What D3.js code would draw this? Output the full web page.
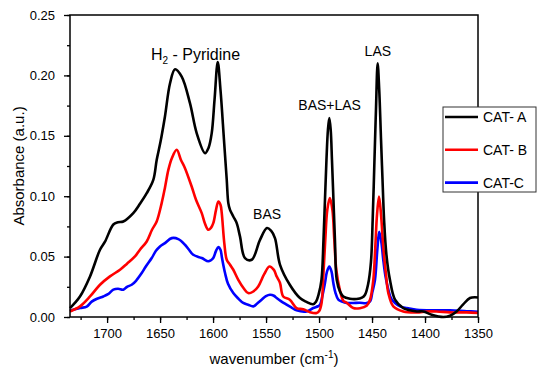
<!DOCTYPE html>
<html lang="en">
<head>
<meta charset="UTF-8">
<title>Pyridine IR spectra</title>
<script src="https://d3js.org/d3.v7.min.js"></script>
<style>
  body { margin: 0; background: #fff; }
  svg { font-family: "Liberation Sans", Arial, sans-serif; }
</style>
</head>
<body>
<svg id="chart" width="550" height="378"></svg>
<script>
// [wavenumber, absorbance]
const catA = [[1735,0.0074],[1725.6,0.017],[1716.1,0.0336],[1706.7,0.0557],[1702,0.0623],[1694.1,0.0766],
  [1689.7,0.0784],[1684.7,0.0791],[1675.3,0.086],[1669,0.0937],[1662.6,0.1025],[1656.4,0.1135],[1653.2,0.13],
  [1649.6,0.145],[1645.4,0.166],[1640.6,0.1935],[1635.9,0.2051],[1629.6,0.199],[1621.8,0.177],[1615.4,0.152],
  [1607.6,0.1356],[1604.3,0.14],[1601.3,0.152],[1598.6,0.18],[1595.6,0.211],[1593,0.188],[1589.7,0.1466],
  [1587.1,0.1136],[1585.6,0.0943],[1584,0.0887],[1580.9,0.0832],[1577.7,0.0777],[1574.6,0.0667],[1569.9,0.0488],
  [1563.5,0.0474],[1555.7,0.0639],[1549.1,0.0736],[1545.3,0.0714],[1541.6,0.0653],[1536.8,0.0432],[1527.6,0.0267],
  [1518,0.0157],[1512.3,0.0127],[1505.7,0.0106],[1502.9,0.0127],[1500.5,0.0184],[1497.7,0.0308],[1495.8,0.064],
  [1494.4,0.097],[1493,0.13],[1491.6,0.155],[1490.3,0.1646],[1489,0.155],[1487.8,0.13],[1486.4,0.097],
  [1485,0.064],[1483.3,0.0308],[1480.2,0.021],[1477.1,0.017],[1470.8,0.0151],[1464.5,0.0149],[1459.5,0.016],
  [1456.6,0.0184],[1453.8,0.0267],[1451,0.0457],[1449.4,0.08],[1447.7,0.13],[1446.3,0.171],[1444.7,0.21],
  [1443.2,0.188],[1441.5,0.1466],[1440.1,0.1136],[1438.6,0.08],[1436.4,0.0515],[1433.1,0.0308],[1428.3,0.0143],
  [1420.5,0.0074],[1407.8,0.0046],[1401.6,0.0046],[1393.7,0.0019],[1382.8,0],[1376.4,0.0011],[1370.2,0.0046],
  [1364.2,0.0102],[1357.6,0.0157],[1350,0.0162]];

const catB = [[1735,0.0046],[1725.6,0.0088],[1716.1,0.017],[1706.7,0.0267],[1697.3,0.0336],[1687.8,0.0391],
  [1681.2,0.0441],[1673.7,0.0501],[1669,0.0557],[1662.6,0.0625],[1657.6,0.0722],[1653.2,0.0791],[1648.5,0.0943],
  [1645.4,0.107],[1642.2,0.1218],[1638.8,0.1317],[1634.3,0.1384],[1630.3,0.13],[1626.5,0.1232],[1620.2,0.108],
  [1616.1,0.097],[1610.7,0.086],[1607.6,0.0772],[1604.5,0.0722],[1602,0.0738],[1599.8,0.0777],[1597.2,0.0887],
  [1595,0.0956],[1593,0.093],[1591.8,0.086],[1589.4,0.0612],[1587.1,0.0474],[1584,0.0433],[1580.9,0.0391],
  [1576.2,0.0308],[1570.8,0.0234],[1566.8,0.0198],[1562.4,0.0209],[1557.4,0.0253],[1552,0.035],[1546.8,0.0418],
  [1542.6,0.039],[1540,0.0336],[1536.9,0.0284],[1533.8,0.017],[1527.6,0.0143],[1521.2,0.0074],[1515,0.0064],
  [1508.5,0.004],[1502.3,0.0033],[1499.7,0.0052],[1497.6,0.0116],[1495.9,0.035],[1494.1,0.064],[1492.2,0.0888],
  [1489.8,0.0984],[1487.4,0.0888],[1485.6,0.064],[1483.7,0.039],[1480.4,0.0226],[1477.1,0.0135],[1473.9,0.0118],
  [1467.7,0.0074],[1461.4,0.0073],[1455.1,0.0093],[1451.9,0.0143],[1448.8,0.0308],[1446.8,0.06],[1445.3,0.0846],
  [1443.4,0.0997],[1441.5,0.0846],[1439.4,0.0584],[1436.8,0.035],[1434.6,0.0198],[1429.9,0.0088],[1420.5,0.0046],
  [1407.8,0.0038],[1398.4,0.0046],[1389,0.0046],[1376.4,0.0038],[1360.7,0.0038],[1350,0.0033]];

const catC = [[1735,0.0052],[1725.6,0.0074],[1719.2,0.0086],[1714.5,0.0127],[1709.5,0.0151],[1703.6,0.017],
  [1699.1,0.0189],[1694.1,0.0226],[1689.7,0.0234],[1684.7,0.0226],[1681.2,0.025],[1676.8,0.0267],[1672.7,0.03],
  [1667.3,0.0364],[1663.3,0.042],[1657.9,0.0488],[1653.9,0.0548],[1650.1,0.0584],[1645.4,0.0612],[1639,0.0653],
  [1632.8,0.0645],[1626.5,0.0598],[1622.7,0.0557],[1618.7,0.0515],[1610.7,0.0488],[1604.5,0.0461],[1602,0.047],
  [1599.8,0.0488],[1597.2,0.0548],[1595,0.0579],[1593,0.0557],[1591.6,0.049],[1588.7,0.0364],[1585.9,0.0275],
  [1580.9,0.0198],[1576.5,0.0155],[1571.5,0.0116],[1567,0.0102],[1562,0.0088],[1558.6,0.011],[1554.2,0.0143],
  [1550.1,0.0172],[1546.3,0.0184],[1542.6,0.0176],[1540,0.0157],[1536,0.0131],[1530.6,0.0102],[1526.5,0.0081],
  [1521.2,0.0055],[1511.7,0.0046],[1505.4,0.0074],[1501,0.0089],[1499.1,0.0102],[1496.8,0.0176],[1494.4,0.0281],
  [1492.5,0.0375],[1490.3,0.0418],[1488.2,0.0375],[1486.5,0.0281],[1484.5,0.02],[1481.8,0.0143],[1478.3,0.0127],
  [1473.9,0.0116],[1467.7,0.0116],[1461.4,0.0118],[1455.7,0.0114],[1451.9,0.0129],[1449.6,0.0209],[1447.2,0.0308],
  [1445,0.0557],[1443.2,0.0705],[1441.1,0.0614],[1439.4,0.0474],[1437.4,0.0342],[1434.6,0.0226],[1432.1,0.0155],
  [1428.3,0.0116],[1423.6,0.0088],[1417.3,0.0074],[1407.8,0.006],[1392.2,0.0055],[1376.4,0.0056],[1360.7,0.0048],
  [1350,0.0044]];

const seriesNames = ["CAT- A", "CAT- B", "CAT-C"];
const seriesColors = ["#000000", "#ff0000", "#0000ff"];
const xTicks = [1700, 1650, 1600, 1550, 1500, 1450, 1400, 1350];
const yTicks = [0.00, 0.05, 0.10, 0.15, 0.20, 0.25];
const peakLabels = [
  { text: "BAS+LAS", w: 1490, v: 0.168 },
  { text: "LAS", w: 1444.5, v: 0.213 },
  { text: "BAS", w: 1549, v: 0.078 }
];

const svg = d3.select("#chart");
const margin = { top: 15, right: 72, bottom: 61, left: 70 };
const width = 550 - margin.left - margin.right;
const height = 378 - margin.top - margin.bottom;

const g = svg.append("g").attr("transform", `translate(${margin.left},${margin.top})`);

const x = d3.scaleLinear().domain([1735, 1350]).range([0, width]);
const y = d3.scaleLinear().domain([0, 0.25]).range([height, 0]);

// minor ticks
g.append("g")
  .attr("transform", `translate(0,${height})`)
  .call(d3.axisBottom(x).tickValues(d3.range(1725, 1349, -25)).tickSize(3).tickFormat(""))
  .call(a => a.select(".domain").remove());
g.append("g")
  .call(d3.axisLeft(y).tickValues(d3.range(0, 0.251, 0.025)).tickSize(3).tickFormat(""))
  .call(a => a.select(".domain").remove());

const xAxis = g.append("g")
  .attr("transform", `translate(0,${height})`)
  .call(d3.axisBottom(x).tickValues(xTicks).tickSize(6).tickPadding(6).tickFormat(d3.format("d")));
const yAxis = g.append("g")
  .call(d3.axisLeft(y).tickValues(yTicks).tickSize(6).tickPadding(9).tickFormat(d3.format(".2f")));

[xAxis, yAxis].forEach(a => {
  a.selectAll("text").attr("font-size", 13).attr("fill", "#000").attr("font-family", "Liberation Sans, Arial, sans-serif");
  a.selectAll("line").attr("stroke", "#000").attr("stroke-width", 1.3);
  a.select(".domain").remove();
});
g.selectAll(".tick line").attr("stroke", "#000").attr("stroke-width", 1.3);

const line = d3.line()
  .x(d => x(d[0]))
  .y(d => y(d[1]))
  .curve(d3.curveCatmullRom.alpha(0.5));

[catC, catB, catA].forEach((data, i) => {
  const idx = 2 - i;
  g.append("path")
    .datum(data)
    .attr("fill", "none")
    .attr("stroke", seriesColors[idx])
    .attr("stroke-width", 2.6)
    .attr("stroke-linejoin", "round")
    .attr("d", line);
});

// frame
g.append("rect")
  .attr("width", width).attr("height", height)
  .attr("fill", "none").attr("stroke", "#000").attr("stroke-width", 1.5);

// peak annotations
const h2 = g.append("text")
  .attr("x", x(1635) - 25).attr("y", y(0.25) + 45)
  .attr("font-size", 16).attr("fill", "#000");
h2.append("tspan").text("H");
h2.append("tspan").attr("font-size", 10).attr("dy", 4).text("2");
h2.append("tspan").attr("dy", -4).text(" - Pyridine");

peakLabels.forEach(p => {
  g.append("text")
    .attr("x", x(p.w)).attr("y", y(p.v) - 4)
    .attr("text-anchor", "middle")
    .attr("font-size", 14).attr("fill", "#000")
    .text(p.text);
});

// axis titles
svg.append("text")
  .attr("transform", `translate(24,${margin.top + height / 2}) rotate(-90)`)
  .attr("text-anchor", "middle").attr("font-size", 15)
  .text("Absorbance (a.u.)");

const xt = svg.append("text")
  .attr("x", margin.left + width / 2).attr("y", 364)
  .attr("text-anchor", "middle").attr("font-size", 15);
xt.append("tspan").text("wavenumber (cm");
xt.append("tspan").attr("font-size", 10).attr("dy", -6).text("-1");
xt.append("tspan").attr("dy", 6).text(")");

// legend
const legend = svg.append("g").attr("transform", "translate(443,107)");
legend.append("rect")
  .attr("width", 93).attr("height", 85)
  .attr("fill", "#fff").attr("stroke", "#333").attr("stroke-width", 1);
seriesNames.forEach((name, i) => {
  const ly = 10 + i * 32.8;
  legend.append("line")
    .attr("x1", 2).attr("x2", 35).attr("y1", ly).attr("y2", ly)
    .attr("stroke", seriesColors[i]).attr("stroke-width", 2.6);
  legend.append("text")
    .attr("x", 40).attr("y", ly).attr("dy", "0.35em")
    .attr("font-size", 14).text(name);
});
</script>
</body>
</html>
